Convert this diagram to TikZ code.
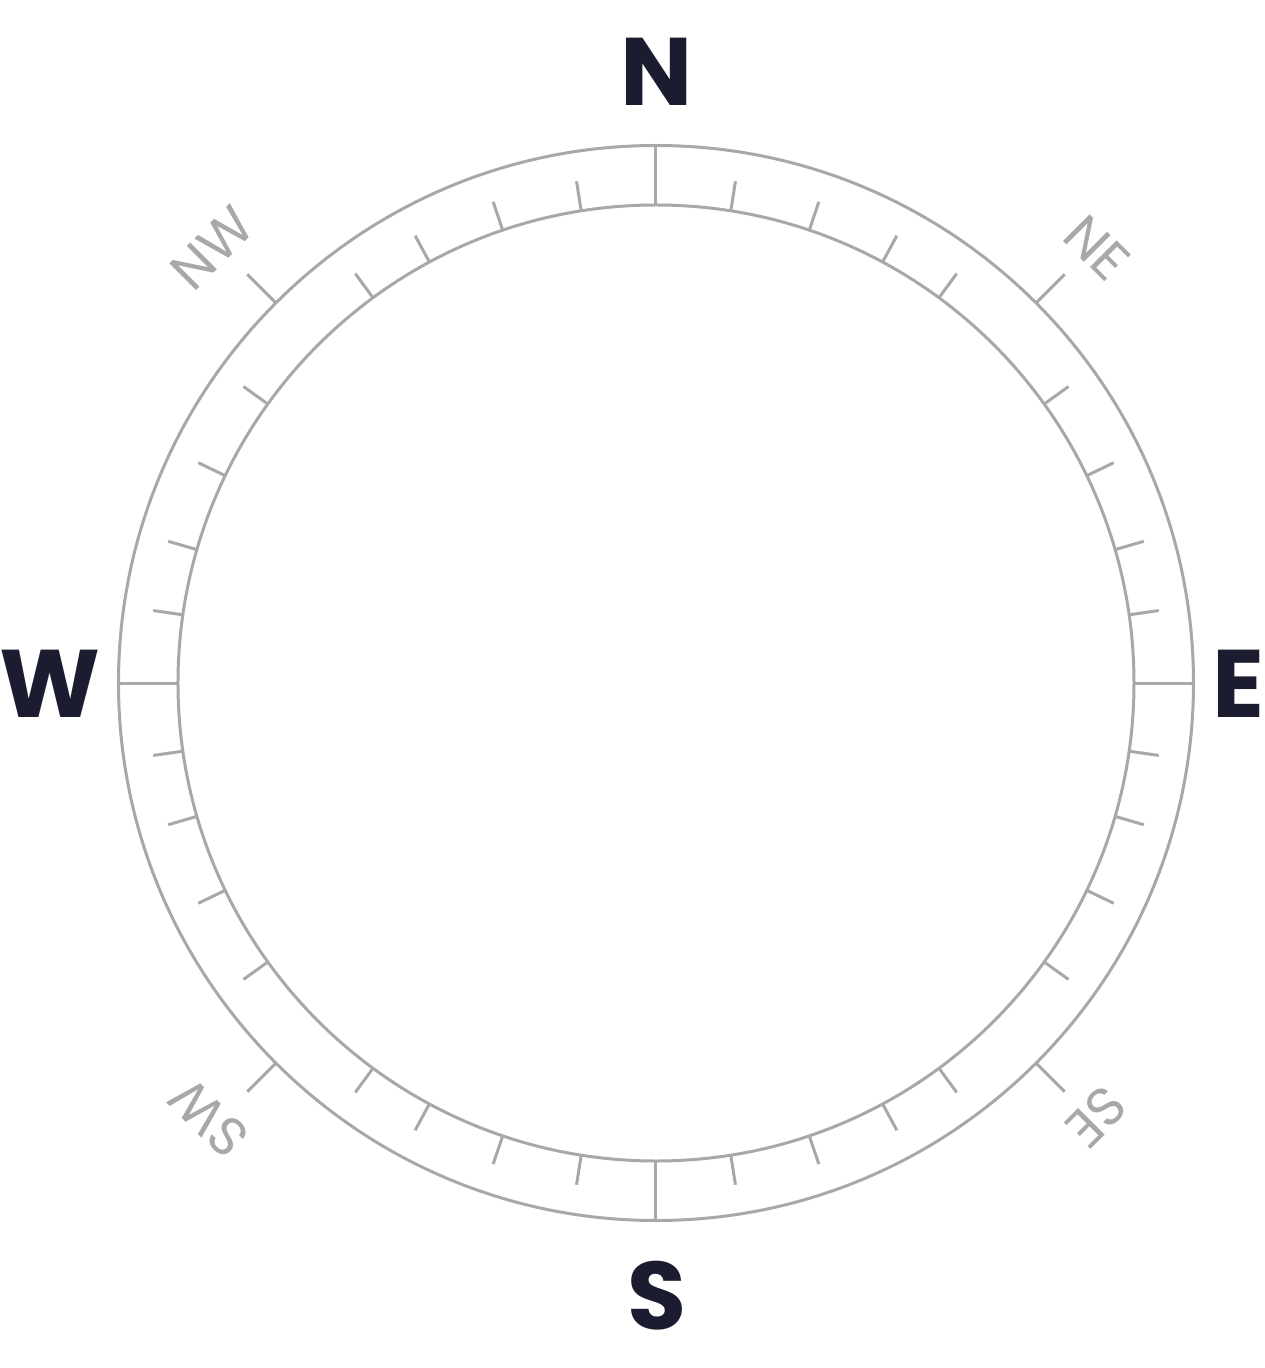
\documentclass[tikz,border=0pt]{standalone}
\usepackage{fontspec}
\setmainfont{Poppins}
\usepackage{xcolor}
\definecolor{ringgray}{HTML}{A8A8A8}
\definecolor{labelnavy}{HTML}{1C1C30}

\begin{document}
\begin{tikzpicture}[x=1pt, y=1pt,
    ring/.style={draw=ringgray, line width=3pt},
    tickmark/.style={draw=ringgray, line width=3pt},
    cardinal/.style={text=labelnavy, inner sep=0pt, font=\fontsize{96}{96}\selectfont\bfseries},
    intercardinal/.style={text=ringgray, inner sep=0pt, font=\fontsize{54}{54}\selectfont}]
      \useasboundingbox (-656,-685) rectangle (608,683);

      % ring
      \draw[ring] (0,0) circle[radius=537.5pt];
      \draw[ring] (0,0) circle[radius=478pt];

      % cardinal ticks across the ring
      \foreach \a in {0,90,180,270}
        \draw[tickmark] (\a:478) -- (\a:537.5);
      % intercardinal ticks outside the ring
      \foreach \a in {45,135,225,315}
        \draw[tickmark] (\a:537.5) -- (\a:578);
      % minor ticks from the inner circle, mirrored in each quadrant
      \foreach \b in {9,18.7,28.3,36.3,54.3,64.3,73.8,81.8}
        \foreach \a in {90-\b,90+\b,270-\b,270+\b}
          \draw[tickmark] (\a:478) -- (\a:508);

      \node[cardinal] (north) at (1,611.5) {N};
      \node[cardinal] (south) at (1,-613) {S};
      \node[cardinal] (east) at (582,-1) {E};
      \node[cardinal] (west) at (-606,-1) {W};

      \node[intercardinal, rotate=-45] (northeast) at (441,435) {NE};
      \node[intercardinal, rotate=45] (northwest) at (-444,435) {NW};
      \node[intercardinal, rotate=-135] (southeast) at (440,-434) {SE};
      \node[intercardinal, rotate=135] (southwest) at (-447,-435) {SW};
\end{tikzpicture}
\end{document}
